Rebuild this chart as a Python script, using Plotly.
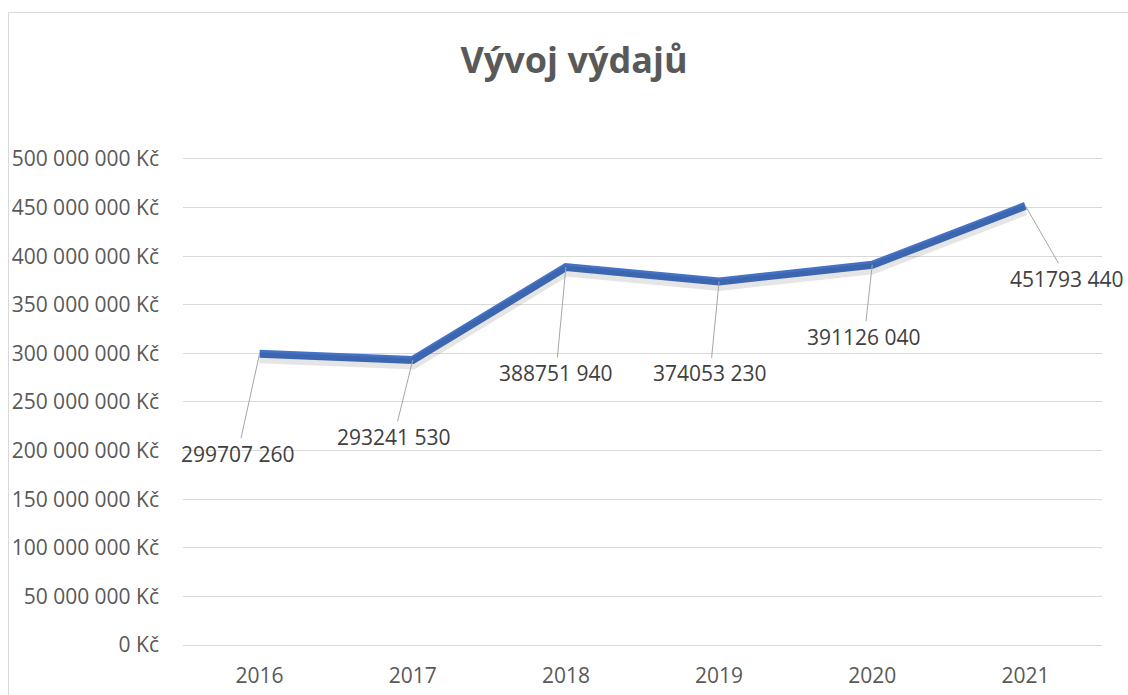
import plotly.graph_objects as go

years = ["2016", "2017", "2018", "2019", "2020", "2021"]
vydaje = [299707260, 293241530, 388751940, 374053230, 391126040, 451793440]
y_tick_vals = [0, 50000000, 100000000, 150000000, 200000000, 250000000,
               300000000, 350000000, 400000000, 450000000, 500000000]
y_tick_text = ["0 Kč", "50 000 000 Kč", "100 000 000 Kč", "150 000 000 Kč",
               "200 000 000 Kč", "250 000 000 Kč", "300 000 000 Kč",
               "350 000 000 Kč", "400 000 000 Kč", "450 000 000 Kč",
               "500 000 000 Kč"]
# label offsets (pixels) from each point to its data label
label_dx = [-22, -19, -10, -9, -8, 42]
label_dy = [100, 77, 106, 92, 72, 73]

FONT = "Open Sans"
GRID = "#D9D9D9"
TXT = "#595959"

W, H = 1128, 695
L, R, T, B = 183, 26, 157, 50
YMAX = 5.02e8
plot_w = W - L - R
plot_h = H - T - B


def fmt(v):
    s = str(v)
    return s[:-3] + " " + s[-3:]


fig = go.Figure()

# soft shadow under the line
fig.add_trace(go.Scatter(
    x=years, y=vydaje, mode="lines", yaxis="y2",
    line=dict(color="rgba(0,0,0,0.10)", width=11),
    hoverinfo="skip", showlegend=False,
))
fig.add_trace(go.Scatter(
    x=years, y=vydaje, mode="lines",
    line=dict(color="#4472C4", width=8),
    showlegend=False,
))

annotations = []
for i, (v, dx, dy) in enumerate(zip(vydaje, label_dx, label_dy)):
    annotations.append(dict(
        x=i, y=v, xref="x", yref="y", text=fmt(v),
        showarrow=True, arrowhead=0, arrowwidth=1, arrowcolor="#A6A6A6",
        ax=dx, ay=dy, font=dict(family=FONT, size=21, color="#404040"),
        standoff=0, startstandoff=0,
    ))

shift = 4 * YMAX / plot_h

fig.update_layout(
    width=W, height=H,
    margin=dict(l=L, r=R, t=T, b=B, autoexpand=False),
    paper_bgcolor="white", plot_bgcolor="white",
    title=dict(text="<b>Vývoj výdajů</b>", x=574 / W, xanchor="center",
               y=1 - 60 / H, yanchor="middle",
               font=dict(family=FONT, size=36, color=TXT)),
    xaxis=dict(type="category", range=[-0.5, 5.5], showgrid=False,
               showline=False, ticks="", ticklabelstandoff=16,
               automargin=False,
               tickfont=dict(family=FONT, size=21, color=TXT)),
    yaxis=dict(range=[0, YMAX], tickvals=y_tick_vals, ticktext=y_tick_text,
               showgrid=True, gridcolor=GRID, gridwidth=1,
               zeroline=True, zerolinecolor=GRID, zerolinewidth=1,
               showline=False, ticks="", ticklabelstandoff=23,
               automargin=False,
               tickfont=dict(family=FONT, size=21, color=TXT)),
    yaxis2=dict(range=[shift, YMAX + shift], overlaying="y", visible=False),
    annotations=annotations,
    shapes=[dict(type="rect", xref="paper", yref="paper",
                 x0=(8.5 - L) / plot_w, x1=(1140 - L) / plot_w,
                 y0=-0.2, y1=(H - B - 12.5) / plot_h,
                 line=dict(color=GRID, width=1), layer="below")],
)

fig.write_html(
    "out.html",
    config={"displayModeBar": False},
    post_script="document.body.style.margin='0';"
                "document.body.style.overflow='hidden';",
)
